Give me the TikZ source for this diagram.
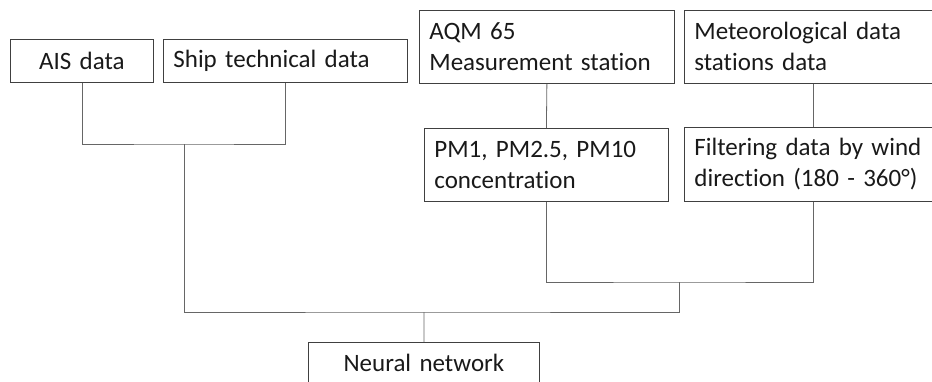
\documentclass[tikz,border=0pt]{standalone}
\usepackage{fontspec}
\setmainfont{Carlito}[RawFeature=-liga]
\begin{document}
\begin{tikzpicture}[x=1pt,y=-1pt,
  boxline/.style={draw=black!75, line width=0.8pt},
  box/.style={boxline, rectangle, anchor=north west, inner xsep=10pt, inner ysep=0pt,
    text=black!90, font=\fontsize{25}{31}\selectfont},
  link/.style={draw=black!60, line width=0.8pt}]
\useasboundingbox (0,0) rectangle (932,381);
\clip (0,0) rectangle (932,381);

% input boxes, top rows
\node[box, text width=123pt, minimum height=43pt, align=center] (ais) at (10,39) {AIS data};
\node[box, text width=224pt, minimum height=43pt, align=left] (ship) at (163,39) {Ship technical data};
\node[box, text width=235pt, minimum height=73pt, align=left] (aqm) at (419,10) {AQM 65\\Measurement station};
\node[box, text width=238pt, minimum height=73pt, align=left] (met) at (684,10) {Meteorological data\\stations data};
\node[box, text width=224pt, minimum height=73pt, align=left] (pm) at (424,128) {PM1, PM2.5, PM10\\concentration};
\node[box, text width=238pt, minimum height=74pt, align=left] (filter) at (684,127) {Filtering data by wind\\direction (180 - 360°)};

% output box
\node[box, text width=211pt, minimum height=42pt, align=center] (neural) at (308,342) {Neural network};

% junction points of the bracket connectors
\coordinate (j1) at (184,144);
\coordinate (j2) at (679,282);
\coordinate (j3) at (424,312);

\draw[link] (ais.south) |- (j1) -| (ship.south);
\draw[link] (aqm.south) -- (pm.north);
\draw[link] (met.south) -- (filter.north);
\draw[link] (pm.south) |- (j2) -| (filter.south);
\draw[link] (j1) |- (j3) -| (j2);
\draw[link] (j3) -- (neural.north);
\end{tikzpicture}
\end{document}
